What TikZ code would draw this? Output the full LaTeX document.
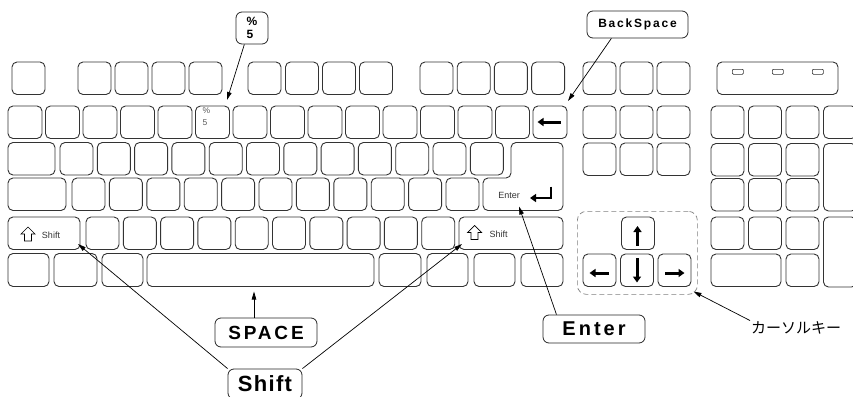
\documentclass[tikz,border=0pt]{standalone}
\usepackage{fontspec}
\setmainfont{Liberation Sans}
\newfontfamily\jpfont{Noto Sans CJK JP}
\newfontfamily\lblfont{Liberation Sans}[LetterSpace=15]
\newfontfamily\lblfontB{Liberation Sans}[LetterSpace=6]
\usetikzlibrary{arrows.meta}
\tikzset{
  key/.style={draw=black!80, line width=0.9pt, rounded corners=5pt, minimum width=33pt, minimum height=32.5pt, anchor=north west, inner sep=0pt, outer sep=0pt},
  keyline/.style={draw=black!80, line width=0.9pt, rounded corners=5pt},
  led/.style={draw=black!80, line width=0.7pt, rounded corners=1pt, minimum width=11pt, minimum height=5pt, inner sep=0pt, anchor=north west},
  keytxt/.style={text=black!80, inner sep=0pt, font=\fontsize{9}{10}\selectfont},
  lbl/.style={draw=black!85, line width=0.8pt, rounded corners=6pt, inner sep=0pt},
  arr/.style={-{Triangle[length=8pt,width=4.5pt]}, line width=0.7pt},
  fat/.style={-{Triangle[length=6pt,width=8pt]}, line width=3pt, line cap=butt},
  curbox/.style={draw=black!50, dashed, dash pattern=on 5pt off 3pt, line width=0.7pt, rounded corners=9pt, anchor=north west, inner sep=0pt},
  shiftarrow/.pic={\draw[line width=0.7pt, line join=miter] (0,0) -- (7,7) -- (3.5,7) -- (3.5,14) -- (-3.5,14) -- (-3.5,7) -- (-7,7) -- cycle;}
}
\begin{document}
\begin{tikzpicture}[x=1pt,y=-1pt]
\useasboundingbox (0,0) rectangle (853,396);
\clip (0,0) rectangle (853,396);
% function row
\node[key] (esc) at (12,62) {};
\foreach \x [count=\i] in {78,115,152,189,248,285.5,322.5,359.5,420,457.2,494.4,531.6}
  \node[key] (f\i) at (\x,62) {};
\foreach \x [count=\i] in {583,620,657}
  \node[key] (n0-\i) at (\x,62) {};
\node[key, minimum width=121pt] (ind) at (717,62) {};
\foreach \x [count=\i] in {732,772,812}
  \node[led] (led\i) at (\x,69) {};
% row 1
\foreach \i in {0,...,14}
  \node[key, minimum width=34pt] (a\i) at ({8+37.5*\i},106) {};
\node[text=black!65, inner sep=0pt, anchor=north west, align=left, font=\fontsize{8.5}{12.5}\selectfont] (a5t) at (202.5,107) {\%\\5};
\draw[fat] (560.5,122) -- (537.5,122);
% row 2
\node[key, minimum width=47pt] (b0) at (8,142.5) {};
\foreach \i in {1,...,12}
  \node[key] (b\i) at ({60+37.3*(\i-1)},142.5) {};
% enter key
\draw[keyline] (537,142.5) -- (563,142.5) -- (563,210.5) -- (483,210.5) -- (483,178) -- (511,178) -- (511,142.5) -- cycle;
\node[keytxt] (entt) at (509,195) {Enter};
\draw[fat, line width=2.6pt] (551,186.5) -- (551,198) -- (530,198);
% row 3
\node[key, minimum width=58pt] (c0) at (8,178) {};
\foreach \i in {1,...,11}
  \node[key] (c\i) at ({72+37.4*(\i-1)},178) {};
% row 4
\node[key, minimum width=72pt] (d0) at (8,217) {};
\foreach \i in {1,...,10}
  \node[key] (d\i) at ({86+37.3*(\i-1)},217) {};
\node[key, minimum width=104pt] (d11) at (459,217) {};
\pic at (28,227) {shiftarrow};
\node[keytxt] (lsh) at (51,235) {Shift};
\pic at (474.5,225.5) {shiftarrow};
\node[keytxt] (rsh) at (498.5,234) {Shift};
% row 5
\foreach \x/\w [count=\i] in {8/41,54/43,102/41,147/227,379/42,427/41,474/41,521/42}
  \node[key, minimum width=\w pt, minimum height=33pt] (e\i) at (\x,253.5) {};
% navigation
\foreach \x [count=\i] in {583,620,657} {
  \node[key] (n1-\i) at (\x,106) {};
  \node[key] (n2-\i) at (\x,143) {};
}
% cursor keys
\node[curbox, minimum width=120pt, minimum height=83pt] (cbox) at (577,211) {};
\node[key] (up) at (621.5,217) {};
\node[key] (left) at (583,254) {};
\node[key] (down) at (620.5,254) {};
\node[key] (right) at (658,254) {};
\draw[fat] (637.5,245.5) -- (637.5,226);
\draw[fat] (637,258) -- (637,282.5);
\draw[fat] (608.5,273) -- (589.5,273);
\draw[fat] (665,273) -- (684.5,273);
% numpad
\foreach \x [count=\i] in {711,748.5,786,823.5}
  \node[key] (p1-\i) at (\x,106) {};
\foreach \x [count=\i] in {711,748.5,786} {
  \node[key] (p2-\i) at (\x,143.5) {};
  \node[key] (p3-\i) at (\x,178.5) {};
  \node[key] (p4-\i) at (\x,217) {};
}
\node[key, minimum height=67.5pt] (pplus) at (823.5,143.5) {};
\node[key, minimum height=70pt] (pent) at (823.5,217) {};
\node[key, minimum width=70pt] (p0) at (711,254) {};
\node[key] (pdot) at (786,254) {};
% labels
\node[lbl, minimum width=32pt, minimum height=32pt, align=left, font=\bfseries\fontsize{12}{13}\selectfont] (pct) at (252,28) {\%\\5};
\coordinate (pcttip) at (227,100);
\draw[arr] (pct.245) -- (pcttip);
\node[lbl, minimum width=101pt, minimum height=27pt, font=\lblfont\bfseries\fontsize{12}{14}\selectfont] (bs) at (637.5,24.5) {BackSpace};
\coordinate (bstip) at (568,101);
\draw[arr] (bs.208) -- (bstip);
\node[lbl, minimum width=102pt, minimum height=29pt, font=\lblfont\bfseries\fontsize{19}{22}\selectfont] (spl) at (266,332.5) {SPACE};
\coordinate (sptip) at (254,291.5);
\draw[arr] (sptip |- spl.north) -- (sptip);
\node[lbl, minimum width=102pt, minimum height=28pt, font=\lblfont\bfseries\fontsize{20}{22}\selectfont] (enl) at (594,329) {Enter};
\coordinate (entip) at (519,206.5);
\draw[arr] (enl.159) -- (entip);
\node[lbl, minimum width=74pt, minimum height=30pt, font=\lblfontB\bfseries\fontsize{22}{24}\selectfont] (shl) at (265,384) {Shift};
\coordinate (lstip) at (78,244);
\coordinate (rstip) at (462,244);
\draw[arr] (shl.north west) -- (lstip);
\draw[arr] (shl.north east) -- (rstip);
\node[font=\jpfont\fontsize{15}{16}\selectfont, inner sep=1pt, anchor=west] (cur) at (750,328) {カーソルキー};
\coordinate (curtip) at (693.5,291.5);
\draw[arr] (cur.north west) -- (curtip);
\end{tikzpicture}
\end{document}
